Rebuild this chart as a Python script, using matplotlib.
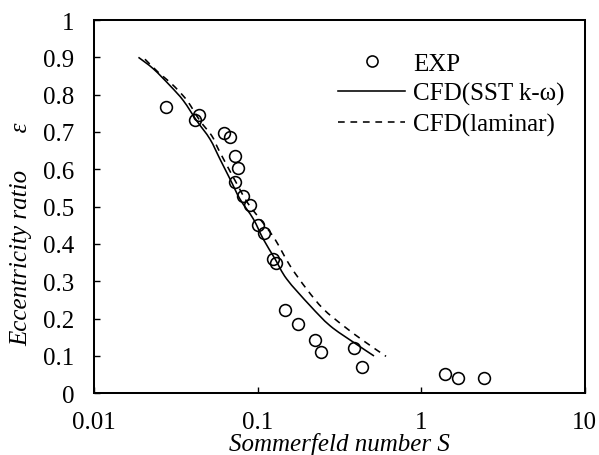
import matplotlib
matplotlib.use("Agg")
import matplotlib.pyplot as plt
from matplotlib.lines import Line2D
from matplotlib.path import Path
from matplotlib.patches import PathPatch
import numpy as np

# Experimental data (Sommerfeld number S, eccentricity ratio)
exp_S = [0.0276, 0.0441, 0.0417, 0.0624, 0.0679, 0.0731, 0.0760, 0.0731,
         0.0812, 0.0900, 0.1011, 0.1096, 0.125, 0.1297, 0.148, 0.1776,
         0.2247, 0.2434, 0.391, 0.4356, 1.402, 1.691, 2.428]
exp_eps = [0.766, 0.746, 0.732, 0.696, 0.686, 0.636, 0.603, 0.565,
           0.529, 0.504, 0.452, 0.429, 0.360, 0.349, 0.223, 0.186,
           0.144, 0.110, 0.121, 0.070, 0.052, 0.040, 0.040]

# CFD (SST k-omega)
sst_S = [0.0187, 0.0231, 0.0292, 0.0352, 0.0425, 0.0512, 0.059, 0.0679,
         0.0782, 0.0943, 0.1085, 0.128, 0.151, 0.2095, 0.2777, 0.3855, 0.516]
sst_eps = [0.900, 0.869, 0.824, 0.784, 0.730, 0.681, 0.627, 0.574,
           0.520, 0.467, 0.413, 0.360, 0.306, 0.235, 0.181, 0.137, 0.100]

# CFD (laminar)
lam_S = [0.0205, 0.0247, 0.0292, 0.0336, 0.0377, 0.0445, 0.0525, 0.0576,
         0.066, 0.075, 0.087, 0.111, 0.129, 0.158, 0.200, 0.2526, 0.3348,
         0.4437, 0.611]
lam_eps = [0.895, 0.860, 0.833, 0.806, 0.780, 0.730, 0.690, 0.654,
           0.605, 0.560, 0.510, 0.450, 0.410, 0.342, 0.279, 0.226, 0.181,
           0.141, 0.099]

x_ticks = [0.01, 0.1, 1, 10]
x_tick_labels = ["0.01", "0.1", "1", "10"]
y_ticks = [0, 0.1, 0.2, 0.3, 0.4, 0.5, 0.6, 0.7, 0.8, 0.9, 1]
y_tick_labels = ["0", "0.1", "0.2", "0.3", "0.4", "0.5", "0.6", "0.7", "0.8", "0.9", "1"]

plt.rcParams['font.family'] = 'serif'
plt.rcParams['font.serif'] = ['Liberation Serif', 'DejaVu Serif']


def smooth_path(xs, ys):
    """Excel-like smoothed line: cubic Bezier through the points (log-x space)."""
    lx = np.log10(np.asarray(xs, float))
    y = np.asarray(ys, float)
    n = len(lx)
    verts = [(10 ** lx[0], y[0])]
    codes = [Path.MOVETO]
    t = 1.0 / 6.0
    for i in range(n - 1):
        p0 = i - 1 if i > 0 else i
        p3 = i + 2 if i + 2 < n else i + 1
        c1x = lx[i] + (lx[i + 1] - lx[p0]) * t
        c1y = y[i] + (y[i + 1] - y[p0]) * t
        c2x = lx[i + 1] - (lx[p3] - lx[i]) * t
        c2y = y[i + 1] - (y[p3] - y[i]) * t
        verts += [(10 ** c1x, c1y), (10 ** c2x, c2y), (10 ** lx[i + 1], y[i + 1])]
        codes += [Path.CURVE4] * 3
    return Path(verts, codes)


fig = plt.figure(figsize=(5.99, 4.56), dpi=100)
ax = fig.add_axes([94/599, (456-394.3)/456, 490.5/599, 373.3/456])

lw = 1.15
dash = (4.2, 3.6)
ax.add_patch(PathPatch(smooth_path(sst_S, sst_eps), facecolor='none',
                       edgecolor='black', lw=lw, capstyle='butt'))
ax.add_patch(PathPatch(smooth_path(lam_S, lam_eps), facecolor='none',
                       edgecolor='black', lw=lw, linestyle=(0, dash), capstyle='butt'))
ax.plot(exp_S, exp_eps, linestyle='none', marker='o', markersize=8.5,
        markerfacecolor='none', markeredgecolor='black', markeredgewidth=1.15)

ax.set_xscale('log')
ax.set_xlim(0.01, 10)
ax.set_ylim(0, 1)
ax.set_xticks(x_ticks)
ax.set_xticklabels(x_tick_labels)
ax.minorticks_off()
ax.set_yticks(y_ticks)
ax.set_yticklabels(y_tick_labels)

fs = 18
ax.tick_params(axis='both', direction='in', length=4.5, width=1.0, labelsize=fs,
               colors='black')
ax.tick_params(axis='y', pad=14)
ax.tick_params(axis='x', pad=12.5)
for s in ax.spines.values():
    s.set_linewidth(1.45)
    s.set_color('black')

ax.set_xlabel("Sommerfeld number S", fontsize=fs, style='italic')
ax.xaxis.set_label_coords(0.5, -0.104)
ax.xaxis.label.set_va('top')
ax.set_ylabel("Eccentricity ratio      \u03b5", fontsize=fs, style='italic')
ax.yaxis.set_label_coords(-0.125, 0.43)

handles = [
    Line2D([], [], linestyle='none', marker='o', markersize=8.0,
           markerfacecolor='none', markeredgecolor='black', markeredgewidth=1.15),
    Line2D([], [], color='black', lw=lw),
    Line2D([], [], color='black', lw=lw, dashes=dash),
]
labels = ["EXP", "CFD(SST k-\u03c9)", "CFD(laminar)"]
ax.legend(handles, labels, loc='upper left', bbox_to_anchor=(0.497, 0.914),
          frameon=False, fontsize=fs, borderpad=0, borderaxespad=0,
          handlelength=2.7, handletextpad=0.3, labelspacing=0.3)

fig.savefig("out.png", dpi=100, facecolor='white')
